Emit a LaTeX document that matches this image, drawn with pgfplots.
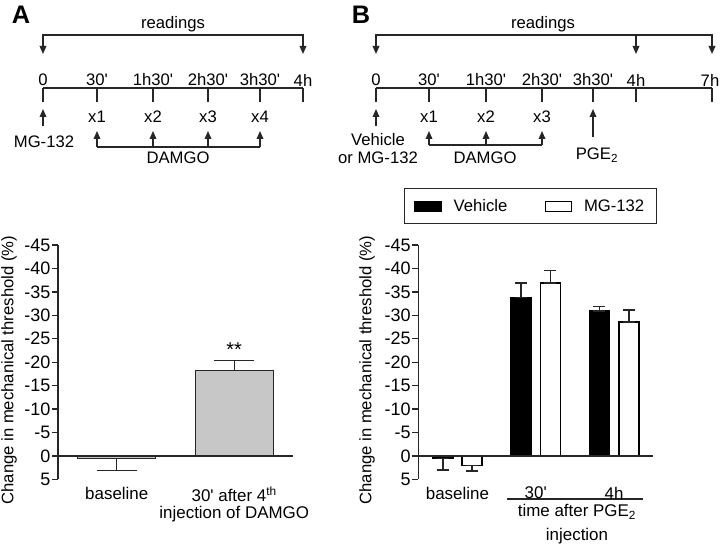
\documentclass[border=0pt]{standalone}
\usepackage{pgfplots}
\pgfplotsset{compat=1.18}
\usepackage{fontspec}
\setmainfont{Liberation Sans}
\usetikzlibrary{arrows.meta}

\newcommand\pr{\textquotesingle}

\pgfplotsset{
  panel/.style={
    scale only axis,
    width=176.25pt, height=175.7pt,
    ybar,
    y dir=reverse,
    ymin=-45, ymax=5,
    axis y line*=left,
    axis x line*=bottom,
    x axis line style={draw=none},
    xtick style={draw=none},
    ytick={-45,-40,...,5},
    yticklabels={-45,-40,-35,-30,-25,-20,-15,-10,-5,0,5},
    tick align=outside,
    major tick length=4.5pt,
    y axis line style={line width=1pt, black!85},
    ytick style={line width=1pt, black!85},
    y tick label style={inner sep=1pt, font=\fontsize{13.5}{14}\selectfont},
    x tick label style={align=center, inner sep=1pt, font=\fontsize{12.7}{12.75}\selectfont},
    label style={font=\fontsize{12.5}{14}\selectfont},
    clip=false,
  },
}

\begin{document}
\begin{tikzpicture}
\useasboundingbox (0,0) rectangle (540pt,-411pt);

% timelines (pixel grid, y downwards)
\begin{scope}[x=0.75pt, y=-0.75pt, line width=1pt, black!85,
  arr/.style={-{Triangle[length=6pt,width=5pt]}},
  every node/.style={font=\fontsize{12.5}{13.5}\selectfont, black}]
  \node[font=\bfseries\fontsize{19}{20}\selectfont] at (21,15) {A};
  \node[font=\bfseries\fontsize{19}{20}\selectfont] at (361,15) {B};

  % panel A
  \node at (173,24) {readings};
  \draw[{Triangle[length=6pt,width=5pt]}-{Triangle[length=6pt,width=5pt]}] (43,54) -- (43,35) -- (303,35) -- (303,54);
  \foreach \x/\t in {43/0, 97/30\pr, 153/1h30\pr, 208/2h30\pr, 260/3h30\pr, 303/4h}
    \node at (\x,80) {\t};
  \draw (43,88) -- (303,88);
  \foreach \x in {43,97,153,208,260,303} \draw (\x,88) -- (\x,102);
  \draw[arr] (43,126) -- (43,109);
  \node at (44,142) {MG-132};
  \foreach \x/\t in {97/x1, 153/x2, 208/x3, 260/x4} {
    \node at (\x,117) {\t};
    \draw[arr] (\x,147) -- (\x,131);
  }
  \draw (97,147) -- (260,147);
  \node at (178,158) {DAMGO};

  % panel B
  \node at (543,24) {readings};
  \draw[{Triangle[length=6pt,width=5pt]}-{Triangle[length=6pt,width=5pt]}] (376,54) -- (376,35) -- (712,35) -- (712,54);
  \draw[arr] (636,35) -- (636,54);
  \foreach \x/\t in {376/0, 429/30\pr, 486/1h30\pr, 542/2h30\pr, 593/3h30\pr, 636/4h}
    \node at (\x,80) {\t};
  \node[inner sep=0pt] at (710,80) {7h};
  \draw (376,88) -- (712,88);
  \foreach \x in {376,429,486,542,593,636,712} \draw (\x,88) -- (\x,102);
  \draw[arr] (376,126) -- (376,109);
  \node[align=center] at (378,149) {Vehicle\\or MG-132};
  \foreach \x/\t in {429/x1, 486/x2, 542/x3} {
    \node at (\x,117) {\t};
    \draw[arr] (\x,145) -- (\x,131);
  }
  \draw (429,145) -- (542,145);
  \node at (485,158) {DAMGO};
  \draw[arr] (593,137) -- (593,109);
  \node at (597,155) {PGE\textsubscript{2}};

  % group label under panel B
  \draw (507,499) -- (643,499);
  \node[font=\fontsize{12.7}{13.5}\selectfont] at (577,512) {time after PGE\textsubscript{2}};
  \node[font=\fontsize{12.7}{13.5}\selectfont] at (577,536) {injection};
\end{scope}

% panel A chart
\begin{axis}[panel,
  at={(43.5pt,-359.5pt)}, anchor=south west,
  xmin=-0.5, xmax=1.5,
  bar width=58.5pt,
  xtick={0,1},
  xticklabels={baseline, {30\pr\ after 4\textsuperscript{th}\\injection of DAMGO}},
  ylabel={Change in mechanical threshold (\%)},
  ylabel style={at={(axis description cs:-0.208,0.466)}, anchor=center, inner sep=0pt},
  error bars/error bar style={line width=1.1pt, black!85},
  error bars/error mark options={rotate=90, line width=1.1pt, black!85, mark size=15pt},
]
\addplot[fill=black!22, draw=black!85, line width=1.1pt, bar shift=0pt,
  error bars/.cd, y dir=both, y explicit]
  coordinates {(0,0.6) += (0,2.5) -= (0,0) (1,-18.2) += (0,0) -= (0,2.2)};
\draw[line width=1pt, black!85] (axis cs:-0.5,0) -- (axis cs:1.5,0);
\node[font=\fontsize{15}{16}\selectfont] at (axis cs:1,-22.6) {**};
\end{axis}

% panel B chart
\begin{axis}[panel,
  at={(313.7pt,-359.5pt)}, anchor=south west,
  xmin=-0.5, xmax=2.5,
  bar width=15pt,
  xtick={0,1,2},
  xticklabels={baseline, 30\pr, 4h},
  ylabel={Change in mechanical threshold (\%)},
  ylabel style={at={(axis description cs:-0.218,0.466)}, anchor=center, inner sep=0pt},
  error bars/error bar style={line width=1.1pt, black!85},
  error bars/error mark options={rotate=90, line width=1.1pt, black!85, mark size=4.5pt},
  legend style={at={(axis description cs:0.478,1.166)}, anchor=center,
    draw=black!85, line width=0.8pt, legend columns=2,
    font=\fontsize{12.5}{14}\selectfont,
    inner xsep=7.5pt, inner ysep=6pt,
    /tikz/every odd column/.append style={column sep=7pt},
    /tikz/every even column/.append style={column sep=26pt}},
  legend image code/.code={\draw[#1, line width=1pt] (0pt,-3.75pt) rectangle (19.5pt,3.75pt);},
]
\addplot[fill=black, draw=black, line width=1.1pt, bar shift=-11pt,
  error bars/.cd, y dir=both, y explicit]
  coordinates {(0,0.6) += (0,2.4) -= (0,0) (1,-33.8) += (0,0) -= (0,3.1) (2,-30.9) += (0,0) -= (0,1.0)};
\addplot[fill=white, draw=black, line width=1.1pt, bar shift=11pt,
  error bars/.cd, y dir=both, y explicit]
  coordinates {(0,2.1) += (0,1.1) -= (0,0) (1,-36.9) += (0,0) -= (0,2.7) (2,-28.6) += (0,0) -= (0,2.5)};
\legend{Vehicle, MG-132}
\draw[line width=1pt, black!85] (axis cs:-0.5,0) -- (axis cs:2.5,0);
\end{axis}
\end{tikzpicture}
\end{document}
